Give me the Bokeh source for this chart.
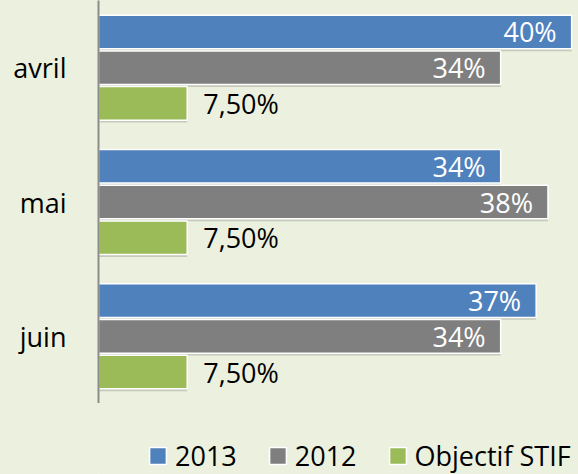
from bokeh.plotting import figure
from bokeh.models import ColumnDataSource, FactorRange, Range1d, Legend, LegendItem
from bokeh.layouts import column
from bokeh.transform import dodge
from bokeh.core.properties import value
from bokeh.embed import file_html
from bokeh.resources import INLINE

months = ["avril", "mai", "juin"]
v2013 = [40, 34, 37]
v2012 = [34, 38, 34]
vobj = [7.5, 7.5, 7.5]
series_names = ["2013", "2012", "Objectif STIF"]

def fmt_int(v):
    return f"{v:.0f}%"

def fmt_dec(v):
    return f"{v:.2f}".replace(".", ",") + "%"

src = ColumnDataSource(dict(
    month=months,
    v2013=v2013, v2012=v2012, vobj=vobj,
    l2013=[fmt_int(v) for v in v2013],
    l2012=[fmt_int(v) for v in v2012],
    lobj=[fmt_dec(v) for v in vobj],
))

BG = "#EBF1DE"
FONT = "Open Sans"
COLORS = ["#4F81BD", "#7F7F7F", "#9BBB59"]

p = figure(width=578, height=403, output_backend="svg", toolbar_location=None,
           y_range=FactorRange(factors=months[::-1], range_padding=0),
           x_range=Range1d(0, 40.58), x_axis_location=None,
           min_border_left=98, min_border_right=0, min_border_top=0,
           min_border_bottom=0)
p.background_fill_color = None
p.border_fill_color = BG
p.outline_line_color = None
p.grid.visible = False

offsets = [0.266, 0.0, -0.266]
cols = ["v2013", "v2012", "vobj"]
H = 0.25

# soft shadows
for off, c in zip(offsets, cols):
    p.hbar(y=dodge("month", off - 0.018, range=p.y_range), right=c, left=0.0,
           height=H, source=src, fill_color="black", fill_alpha=0.16, line_color=None)

for off, c, col in zip(offsets, cols, COLORS):
    p.hbar(y=dodge("month", off, range=p.y_range), right=c, left=0,
           height=H, source=src, fill_color=col, line_color="white", line_width=1.5)

# data labels inside bars (white)
for off, c, lab in zip(offsets[:2], cols[:2], ["l2013", "l2012"]):
    p.text(x=c, y=dodge("month", off, range=p.y_range), text=lab, source=src,
           text_color="white", text_font=value(FONT), text_font_size="27px",
           text_align="right", text_baseline="middle", x_offset=-15)

# objective labels (black, outside)
p.text(x="vobj", y=dodge("month", offsets[2], range=p.y_range), text="lobj", source=src,
       text_color="black", text_font=value(FONT), text_font_size="27px",
       text_align="left", text_baseline="middle", x_offset=16)

ax = p.yaxis[0]
ax.major_tick_line_color = None
ax.minor_tick_line_color = None
ax.major_tick_out = 0
ax.major_tick_in = 0
ax.axis_line_color = "#8C8C8C"
ax.axis_line_width = 2
ax.major_label_standoff = 32
ax.major_label_text_font = FONT
ax.major_label_text_font_size = "27px"
ax.major_label_text_color = "black"

# legend strip below the chart
pl = figure(width=578, height=71, output_backend="svg", toolbar_location=None,
            x_range=Range1d(0, 1), y_range=Range1d(0, 1),
            x_axis_location=None, y_axis_location=None,
            min_border_left=0, min_border_right=0, min_border_top=0, min_border_bottom=0)
pl.background_fill_color = None
pl.border_fill_color = BG
pl.outline_line_color = None
pl.grid.visible = False

# legend proxies (kept outside the visible range)
leg_renderers = []
for col in COLORS:
    r = pl.hbar(y=[-10], right=[-10], left=-11, height=1, fill_color=col,
                line_color="white", line_width=1.5)
    leg_renderers.append(r)

legend = Legend(items=[LegendItem(label=n, renderers=[r]) for n, r in zip(series_names, leg_renderers)],
                orientation="horizontal", location=(49, 0),
                glyph_width=21, glyph_height=21, label_standoff=7, spacing=30,
                padding=0, margin=0, border_line_color=None, background_fill_alpha=0,
                label_text_font=FONT, label_text_font_size="27px", label_text_color="black")
pl.add_layout(legend, "center")

layout = column(p, pl, spacing=0, styles={"background-color": BG})
open("out.html", "w").write(file_html(layout, INLINE))
